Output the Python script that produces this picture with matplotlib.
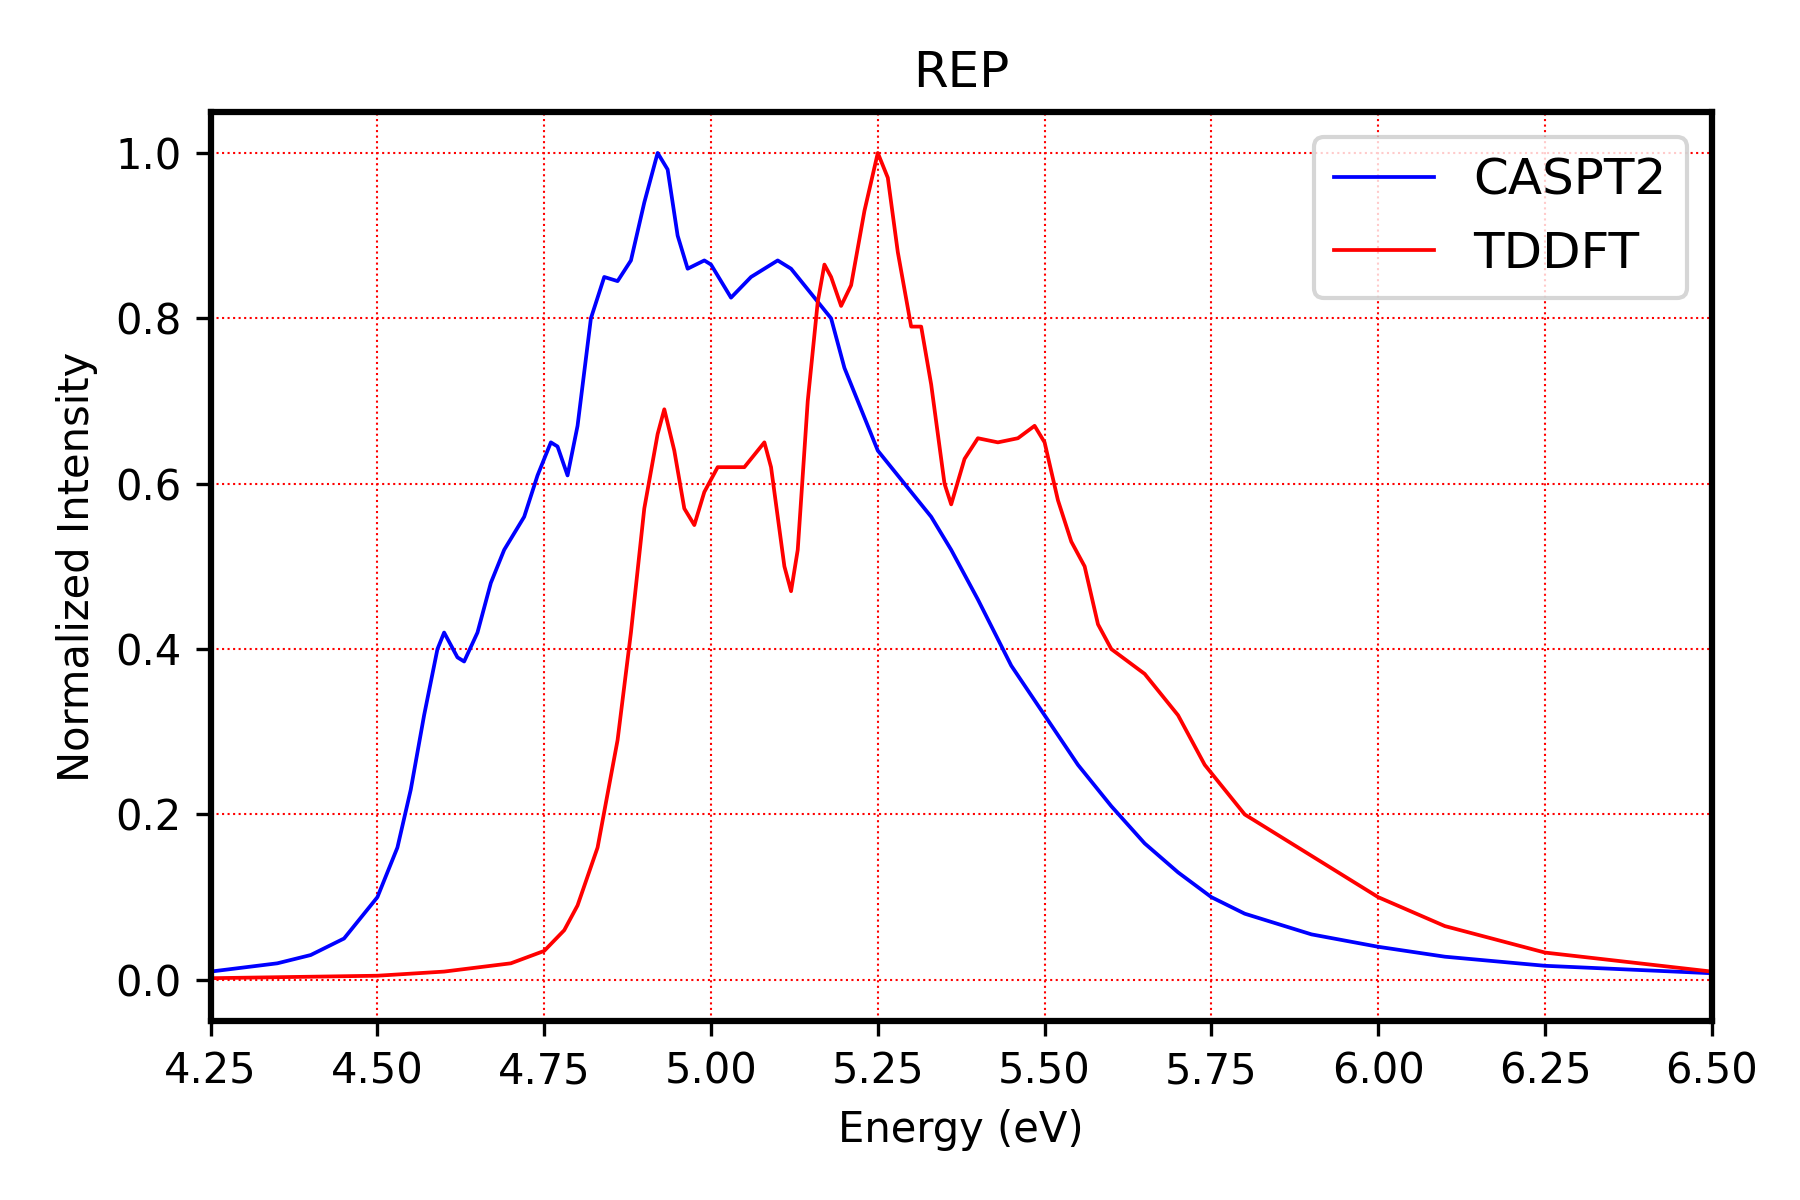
import matplotlib
matplotlib.use("Agg")
import matplotlib.pyplot as plt

cas_x = [4.25,4.35,4.40,4.45,4.50,4.53,4.55,4.57,4.59,4.60,4.62,4.63,4.65,4.67,4.69,4.72,4.74,4.76,4.77,4.785,4.80,4.82,4.84,4.86,4.88,4.90,4.92,4.935,4.95,4.965,4.99,5.00,5.03,5.06,5.10,5.12,5.15,5.18,5.20,5.22,5.25,5.30,5.33,5.36,5.40,5.45,5.50,5.55,5.60,5.65,5.70,5.75,5.80,5.90,6.00,6.10,6.25,6.50]
cas_y = [0.01,0.02,0.03,0.05,0.10,0.16,0.23,0.32,0.40,0.42,0.39,0.385,0.42,0.48,0.52,0.56,0.61,0.65,0.645,0.61,0.67,0.80,0.85,0.845,0.87,0.94,1.0,0.98,0.90,0.86,0.87,0.865,0.825,0.85,0.87,0.86,0.83,0.80,0.74,0.70,0.64,0.59,0.56,0.52,0.46,0.38,0.32,0.26,0.21,0.165,0.13,0.10,0.08,0.055,0.04,0.028,0.017,0.008]

td_x = [4.25,4.50,4.60,4.70,4.75,4.78,4.80,4.83,4.86,4.88,4.90,4.92,4.93,4.945,4.96,4.975,4.99,5.01,5.03,5.05,5.065,5.08,5.09,5.11,5.12,5.13,5.145,5.16,5.17,5.18,5.195,5.21,5.23,5.25,5.265,5.28,5.30,5.315,5.33,5.35,5.36,5.38,5.40,5.43,5.46,5.485,5.50,5.52,5.54,5.56,5.58,5.60,5.65,5.70,5.74,5.80,5.90,6.00,6.10,6.25,6.50]
td_y = [0.002,0.005,0.01,0.02,0.035,0.06,0.09,0.16,0.29,0.42,0.57,0.66,0.69,0.64,0.57,0.55,0.59,0.62,0.62,0.62,0.635,0.65,0.62,0.50,0.47,0.52,0.70,0.82,0.865,0.85,0.815,0.84,0.93,1.0,0.97,0.88,0.79,0.79,0.72,0.60,0.575,0.63,0.655,0.65,0.655,0.67,0.65,0.58,0.53,0.50,0.43,0.40,0.37,0.32,0.26,0.20,0.15,0.10,0.065,0.033,0.01]

fig, ax = plt.subplots(figsize=(6, 4), dpi=300)
ax.plot(cas_x, cas_y, color="blue", lw=0.9, label="CASPT2")
ax.plot(td_x, td_y, color="red", lw=0.9, label="TDDFT")
ax.set_xlim(4.25, 6.5)
ax.set_ylim(-0.05, 1.05)
ax.set_xticks([4.25,4.5,4.75,5.0,5.25,5.5,5.75,6.0,6.25,6.5])
ax.grid(True, color="red", linestyle=":", linewidth=0.5)
ax.set_xlabel("Energy (eV)")
ax.set_ylabel("Normalized Intensity")
ax.set_title("REP")
for s in ax.spines.values():
    s.set_linewidth(1.5)
ax.legend(loc="upper right", fontsize=12)
fig.subplots_adjust(left=0.117, right=0.951, top=0.907, bottom=0.149)
fig.savefig("out.png", dpi=300)
